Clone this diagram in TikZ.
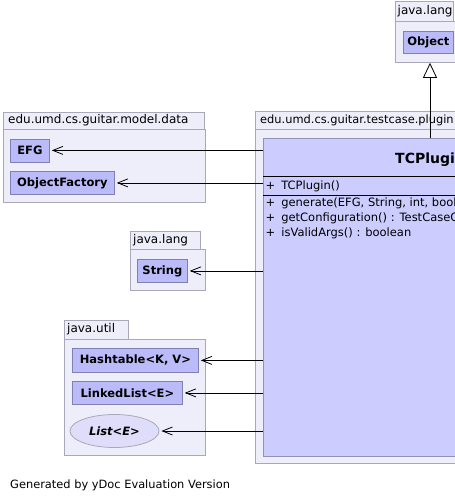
\documentclass[tikz,border=0pt]{standalone}
\usepackage{fontspec}
\setmainfont{DejaVu Sans}
\usetikzlibrary{arrows.meta,shapes.geometric}

\definecolor{pkgfill}{RGB}{238,238,251}
\definecolor{pkgline}{RGB}{168,168,184}
\definecolor{clsfill}{RGB}{187,187,250}
\definecolor{clsline}{RGB}{128,128,180}
\definecolor{bigfill}{RGB}{204,204,255}
\definecolor{bigline}{RGB}{145,145,180}
\definecolor{ifcfill}{RGB}{222,222,250}

\begin{document}
\begin{tikzpicture}[x=1pt,y=-1pt,font=\fontsize{11.5}{13}\selectfont,
    pkg/.style={draw=pkgline,fill=pkgfill,line width=0.8pt,anchor=north west,inner sep=0pt},
    pkglabel/.style={anchor=west,inner sep=0pt,font=\fontsize{12}{14}\selectfont},
    cls/.style={draw=clsline,fill=clsfill,line width=0.8pt,anchor=north west,
        minimum height=23pt,inner sep=0pt,font=\fontsize{11.5}{13}\selectfont\bfseries},
    dep/.style={-{Straight Barb[length=10pt,width=8pt]},line width=0.8pt,shorten >=2pt},
    inh/.style={-{Triangle[open,length=15pt,width=14pt]},line width=0.8pt}]
\useasboundingbox (0,0) rectangle (455,501);
\clip (0,0) rectangle (455,501);

% packages
\node[pkg,minimum width=201pt,minimum height=17pt] (tabdata) at (3,112) {};
\node[pkg,minimum width=202pt,minimum height=73pt] (pkgdata) at (3,129) {};
\node[pkglabel] (lbdata) at (8,120.5) {edu.umd.cs.guitar.model.data};

\node[pkg,minimum width=350pt,minimum height=18pt] (tabplugin) at (255,111) {};
\node[pkg,minimum width=350pt,minimum height=334pt] (pkgplugin) at (255,129) {};
\node[pkglabel,font=\fontsize{11.4}{14}\selectfont] (lbplugin) at (260,120) {edu.umd.cs.guitar.testcase.plugin};

\node[pkg,minimum width=58pt,minimum height=20pt] (tabobj) at (395,1) {};
\node[pkg,minimum width=70pt,minimum height=41pt] (pkgobj) at (395,21) {};
\node[pkglabel] (lbobj) at (397.5,11) {java.lang};

\node[pkg,minimum width=70pt,minimum height=18pt] (tabstr) at (130,231) {};
\node[pkg,minimum width=75pt,minimum height=41pt] (pkgstr) at (130,249) {};
\node[pkglabel] (lbstr) at (133,240) {java.lang};

\node[pkg,minimum width=64pt,minimum height=19pt] (tabutil) at (64,320) {};
\node[pkg,minimum width=141pt,minimum height=116pt] (pkgutil) at (64,339) {};
\node[pkglabel] (lbutil) at (67,329.5) {java.util};

% classes
\node[cls,minimum width=39pt] (efg) at (10,138.5) {EFG};
\node[cls,minimum width=104pt] (objfac) at (10,171) {ObjectFactory};
\node[cls,minimum width=50pt,minimum height=22pt] (obj) at (403,31) {Object};
\node[cls,minimum width=50pt] (str) at (137,259) {String};
\node[cls,minimum width=126pt,minimum height=24pt] (hash) at (72,348) {Hashtable<K, V>};
\node[cls,minimum width=110pt] (linked) at (72,381) {LinkedList<E>};
\node[cls,ellipse,anchor=center,draw=pkgline,fill=ifcfill,minimum width=89pt,minimum height=33pt]
    (list) at (114.5,431) {\itshape List<E>};

% TCPlugin
\node[cls,draw=bigline,fill=bigfill,minimum width=334pt,minimum height=318pt] (tcp) at (263,138) {};
\node[anchor=west,inner sep=0pt,font=\fontsize{14}{16}\selectfont\bfseries] (tcpname) at (395,160) {TCPlugin};
\draw[line width=0.8pt] (tcp.west |- 0,176) -- (tcp.east |- 0,176);
\draw[line width=0.8pt] (tcp.west |- 0,195.5) -- (tcp.east |- 0,195.5);
\foreach \y/\txt [count=\i] in {186/TCPlugin(),203/{generate(EFG, String, int, bool},
    218/{getConfiguration() : TestCaseC},233/{isValidArgs() : boolean}}
  \node[anchor=west,inner sep=0pt] (member\i) at (265.5,\y) {+\hspace{6pt}\txt};

% dependencies
\foreach \c in {efg,objfac,str,hash,linked,list}
  \draw[dep] (tcp.west |- \c.east) -- (\c.east);
\draw[inh] (tcp.north -| 430,0) -- (pkgobj.south -| 430,0);

\node[anchor=west,inner sep=0pt,font=\fontsize{11.4}{13}\selectfont] (note) at (10,485) {Generated by yDoc Evaluation Version};
\end{tikzpicture}
\end{document}
